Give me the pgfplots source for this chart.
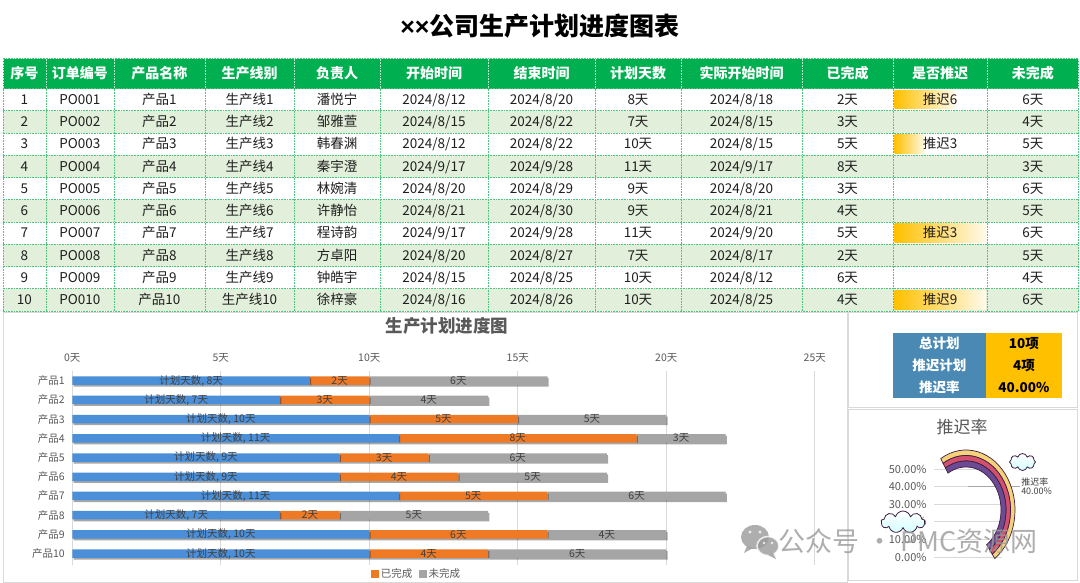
\documentclass[border=0pt]{standalone}
\usepackage{fontspec}
\setmainfont{Noto Sans CJK SC}
\newfontfamily\lat{Liberation Sans}
\usepackage{pgfplots}
\pgfplotsset{compat=1.18}
\usepackage{pgfplotstable}
\usetikzlibrary{shadows,shapes.symbols}
\definecolor{hdr}{HTML}{00B050}
\definecolor{rowg}{HTML}{E2EFDA}
\definecolor{gline}{HTML}{4CC47C}
\definecolor{body}{HTML}{1F1F1F}
\definecolor{cblue}{HTML}{4A8FD8}
\definecolor{corange}{HTML}{EF7A26}
\definecolor{cgray}{HTML}{A5A5A5}
\definecolor{txt}{HTML}{595959}
\definecolor{lbl}{HTML}{404040}
\definecolor{gridc}{HTML}{D9D9D9}
\definecolor{frm}{HTML}{D9D9D9}
\definecolor{sblue}{HTML}{4A89B4}
\definecolor{syel}{HTML}{FFC000}
\definecolor{rby}{HTML}{F5D27A}
\definecolor{rbp}{HTML}{D2506E}
\definecolor{rbv}{HTML}{6C4A94}
\definecolor{rbo}{HTML}{3E1F40}
\definecolor{wm}{HTML}{9A9A9A}
\definecolor{lead}{HTML}{A6A6A6}
\newcommand\fs[1]{\fontsize{#1bp}{#1bp}\selectfont}
\newcommand\tcol[2]{\foreach \v [count=\r] in {#2} {\node[anchor=base, font=\fs{13.5}, text=body, inner sep=0pt] at (#1,{88.5+(\r-0.5)*22.25+4.8}) {\v};}}
\newcommand\rband[5]{\filldraw[fill=#5, draw=rbo, line width=0.7bp] (121:#1bp and #2bp) arc[start angle=121, end angle=-54, x radius=#1bp, y radius=#2bp] -- (-54:#3bp and #4bp) arc[start angle=-54, end angle=121, x radius=#3bp, y radius=#4bp] -- cycle;}

\pgfplotstableread{
id plan done undone
1 8 2 6
2 7 3 4
3 10 5 5
4 11 8 3
5 9 3 6
6 9 4 5
7 11 5 6
8 7 2 5
9 10 6 4
10 10 4 6
}\gantt

\begin{document}
\begin{tikzpicture}
\path[use as bounding box, fill=white] (0,0) rectangle (1080bp,-583bp);
\begin{scope}[x=1bp,y=-1bp]
% title
\node[anchor=base, font=\fs{25}\bfseries] at (540,35) {{\lat\bfseries ××}公司生产计划进度图表};
% table backgrounds
\fill[hdr] (2.8,58.5) rectangle (1078.6,88.5);
\foreach \r in {2,4,6,8,10} \fill[rowg] (2.8,{88.5+(\r-1)*22.25}) rectangle (1078.6,{88.5+\r*22.25});
% delay data bars
\foreach \r/\f in {1/0.66,3/0.33,7/1,10/1}
  \shade[left color=syel, right color=syel!8] (894.5,{88.5+(\r-1)*22.25+1.8}) rectangle ({894.5+\f*91.5},{88.5+\r*22.25-1.8});
% grid lines
\foreach \r in {0,...,10} \draw[gline, densely dotted, line width=0.6bp] (2.8,{88.5+\r*22.25}) -- (1078.6,{88.5+\r*22.25});
\draw[gline, densely dotted, line width=0.6bp] (2.8,58.5) -- (1078.6,58.5);
\foreach \x in {2.8,45.9,113.8,205,294,380,488,595,681,802,893,987,1078.6} {
  \draw[gline, densely dotted, line width=0.6bp] (\x,88.5) -- (\x,311);
  \draw[white!75!hdr, densely dotted, line width=0.6bp] (\x,58.5) -- (\x,88.5);}
% header text
\foreach \x/\t in {24.35/序号,79.85/订单编号,159.4/产品名称,249.5/生产线别,337/负责人,434/开始时间,541.5/结束时间,638/计划天数,741.5/实际开始时间,847.5/已完成,940/是否推迟,1032.8/未完成}
  \node[anchor=base, font=\fs{14}\bfseries, text=white, inner sep=0pt] at (\x,78.5) {\t};
% body
\tcol{24.35}{1,2,3,4,5,6,7,8,9,10}
\tcol{79.85}{PO001,PO002,PO003,PO004,PO005,PO006,PO007,PO008,PO009,PO010}
\tcol{159.4}{产品1,产品2,产品3,产品4,产品5,产品6,产品7,产品8,产品9,产品10}
\tcol{249.5}{生产线1,生产线2,生产线3,生产线4,生产线5,生产线6,生产线7,生产线8,生产线9,生产线10}
\tcol{337}{潘悦宁,邹雅萱,韩春渊,秦宇澄,林婉清,许静怡,程诗韵,方卓阳,钟皓宇,徐梓豪}
\tcol{434}{2024/8/12,2024/8/15,2024/8/12,2024/9/17,2024/8/20,2024/8/21,2024/9/17,2024/8/20,2024/8/15,2024/8/16}
\tcol{541.5}{2024/8/20,2024/8/22,2024/8/22,2024/9/28,2024/8/29,2024/8/30,2024/9/28,2024/8/27,2024/8/25,2024/8/26}
\tcol{638}{8天,7天,10天,11天,9天,9天,11天,7天,10天,10天}
\tcol{741.5}{2024/8/18,2024/8/15,2024/8/15,2024/9/17,2024/8/20,2024/8/21,2024/9/20,2024/8/17,2024/8/12,2024/8/25}
\tcol{847.5}{2天,3天,5天,8天,3天,4天,5天,2天,6天,4天}
\tcol{1032.8}{6天,4天,5天,3天,6天,5天,6天,5天,4天,6天}
\foreach \r/\t in {1/推迟6,3/推迟3,7/推迟3,10/推迟9}
  \node[anchor=base, font=\fs{13.5}, text=body, inner sep=0pt] at (940,{88.5+(\r-0.5)*22.25+4.8}) {\t};
% panel frames
\draw[frm, line width=0.8bp] (3,312) rectangle (847,582);
\draw[frm, line width=0.8bp] (848,312) rectangle (1077,407);
\draw[frm, line width=0.8bp] (848,409) rectangle (1077,580);
% chart title
\node[anchor=base, font=\fs{17.5}\bfseries, text=txt] at (447,332.5) {生产计划进度图};
% summary box
\fill[sblue] (892.7,333.3) rectangle (986,398.3);
\fill[syel] (986,333.3) rectangle (1061.7,398.3);
\foreach \y/\a/\b in {344.1/总计划/10项,365.8/推迟计划/4项,387.5/推迟率/40.00\%}{
  \node[anchor=base, font=\fs{13.5}\bfseries, text=white, inner sep=0pt] at (939.4,\y+4.8) {\a};
  \node[anchor=base, font=\fs{13.5}\bfseries, text=black, inner sep=0pt] at (1023.9,\y+4.8) {\b};}
% rate chart title
\node[anchor=base, font=\fs{17}, text=txt] at (962,433) {推迟率};
\end{scope}

% ---------- Gantt bars ----------
\begin{axis}[at={(72.3bp,-371bp)}, anchor=north west, scale only axis,
  width=742.5bp, height=194bp,
  xmin=0, xmax=25, ymin=0.5, ymax=10.59, y dir=reverse,
  xbar stacked, bar width=8.5bp,
  axis line style={draw=none}, major tick length=0pt,
  xtick={0,5,10,15,20,25}, xticklabels={0天,5天,10天,15天,20天,25天},
  xticklabel pos=upper,
  ytick={1,...,10}, yticklabels={产品1,产品2,产品3,产品4,产品5,产品6,产品7,产品8,产品9,产品10},
  xmajorgrids, grid style={gridc, line width=0.8bp},
  tick label style={font=\fs{10.5}, text=txt},
  xticklabel style={yshift=5bp}, yticklabel style={xshift=-4bp},
  legend style={at={(0.464,0.005)}, anchor=north, draw=none, fill=none,
    font=\fs{10.5}, text=txt, legend columns=2,
    /tikz/every even column/.append style={column sep=5bp}},
  clip=false]
\addplot[fill=cblue, draw=none, forget plot, drop shadow={shadow xshift=1.2bp, shadow yshift=-1.8bp, opacity=0.35, fill=black}] table[x=plan, y=id]{\gantt};
\addplot[fill=corange, draw=none, forget plot, drop shadow={shadow xshift=1.2bp, shadow yshift=-1.8bp, opacity=0.35, fill=black}] table[x=done, y=id]{\gantt};
\addplot[fill=cgray, draw=none, forget plot, drop shadow={shadow xshift=1.2bp, shadow yshift=-1.8bp, opacity=0.35, fill=black}] table[x=undone, y=id]{\gantt};
\addlegendimage{legend image code/.code={\fill[corange] (0bp,-3.5bp) rectangle (7bp,3.5bp);}}
\addlegendentry{已完成}
\addlegendimage{legend image code/.code={\fill[cgray] (0bp,-3.5bp) rectangle (7bp,3.5bp);}}
\addlegendentry{未完成}
\end{axis}

% ---------- Gantt labels ----------
\begin{axis}[at={(72.3bp,-371bp)}, anchor=north west, scale only axis,
  width=742.5bp, height=194bp,
  xmin=0, xmax=25, ymin=0.5, ymax=10.59, y dir=reverse, hide axis, clip=false,
  /pgf/number format/assume math mode=true,
  every node near coord/.append style={anchor=center, font=\fs{10.5}, text=lbl, inner sep=0pt}]
\addplot[only marks, mark=none, point meta=\thisrow{plan},
  nodes near coords={计划天数, \pgfmathprintnumber{\pgfplotspointmeta}天}]
  table[x expr=\thisrow{plan}/2, y=id]{\gantt};
\addplot[only marks, mark=none, point meta=\thisrow{done},
  nodes near coords={\pgfmathprintnumber{\pgfplotspointmeta}天}]
  table[x expr=\thisrow{plan}+\thisrow{done}/2, y=id]{\gantt};
\addplot[only marks, mark=none, point meta=\thisrow{undone},
  nodes near coords={\pgfmathprintnumber{\pgfplotspointmeta}天}]
  table[x expr=\thisrow{plan}+\thisrow{done}+\thisrow{undone}/2, y=id]{\gantt};
\end{axis}

% ---------- Rate chart ----------
\begin{axis}[at={(934bp,-557bp)}, anchor=south west, scale only axis,
  width=68bp, height=88bp, xmin=0, xmax=1, ymin=0, ymax=0.5,
  axis line style={draw=none}, major tick length=0pt, xtick=\empty,
  ytick={0,0.1,0.2,0.3,0.4,0.5},
  yticklabels={0.00\%,10.00\%,20.00\%,30.00\%,40.00\%,50.00\%},
  ymajorgrids, grid style={gridc, line width=0.8bp},
  yticklabel style={font=\fs{11}, text=txt, xshift=-4bp}, clip=false,
  every node near coord/.append style={anchor=west, align=left, font=\fs{9}, text=lbl, inner sep=0pt}]
\addplot[draw=lead, line width=0.7bp, mark=none] coordinates {(0.5,0.4) (1.265,0.4)};
\addplot[only marks, mark=none, nodes near coords={推迟率\\40.00\%}] coordinates {(1.28,0.4)};
\end{axis}

% rainbow decoration
\begin{scope}[shift={(966bp,-510bp)}]
\rband{49}{60}{44.5}{54.5}{rby}
\rband{44.5}{54.5}{40}{49}{rbp}
\rband{40}{49}{35}{43}{rbv}
\end{scope}
% clouds
\node[cloud, cloud puffs=8, aspect=1.6, draw=rbo, top color=white, bottom color=cyan!18, minimum width=26bp, minimum height=17bp, inner sep=0pt, line width=0.8bp] at (1022.5bp,-462bp) {};
\node[cloud, cloud puffs=9, aspect=2, draw=rbo, top color=white, bottom color=cyan!18, minimum width=44bp, minimum height=22bp, inner sep=0pt, line width=0.8bp] at (903bp,-522bp) {};

% watermark
\begin{scope}[opacity=0.8]
\fill[wm] (755bp,-537bp) ellipse [x radius=14bp, y radius=12bp];
\fill[wm] (747bp,-546bp) -- (744bp,-553bp) -- (753bp,-548bp) -- cycle;
\filldraw[fill=wm, draw=white, line width=1.5bp] (768bp,-546bp) ellipse [x radius=11bp, y radius=9.5bp];
\fill[wm] (773bp,-553bp) -- (776bp,-559bp) -- (768bp,-555bp) -- cycle;
\fill[white] (750bp,-532bp) circle (1.6bp) (760bp,-532bp) circle (1.6bp) (764bp,-543bp) circle (1.3bp) (772bp,-543bp) circle (1.3bp);
\node[anchor=base west, font=\fs{27}, text=wm, inner sep=0pt] at (778bp,-551bp) {公众号\hspace{7bp}·\hspace{7bp}PMC资源网};
\end{scope}
\end{tikzpicture}
\end{document}
